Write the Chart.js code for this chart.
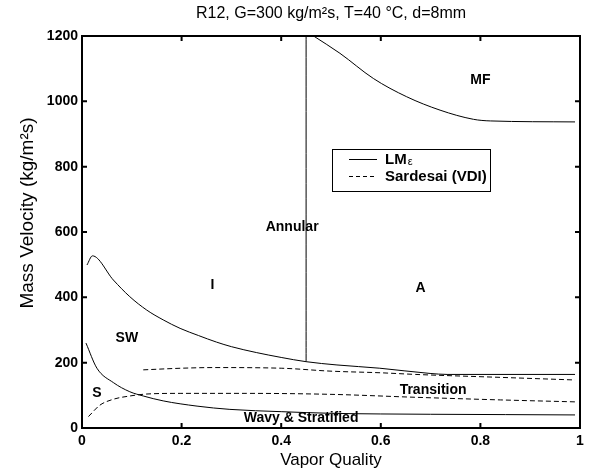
<!DOCTYPE html>
<html>
<head>
<meta charset="utf-8">
<script src="https://cdn.jsdelivr.net/npm/chart.js@4"></script>
<style>
  html, body { margin: 0; padding: 0; background: #fff; }
</style>
</head>
<body>
<canvas id="chart" width="589" height="472"></canvas>
<script>
// LMe map boundaries (solid)
const swQ = [0.01, 0.021, 0.063, 0.096, 0.13, 0.163, 0.197, 0.234, 0.27, 0.3, 0.35, 0.4, 0.45, 0.512, 0.598, 0.699, 0.733, 0.99];
const swG = [499, 527, 453, 402, 361, 331, 305, 283, 263, 249, 231, 216, 203, 193, 183, 167, 164, 164];

const stratQ = [0.008, 0.03, 0.063, 0.096, 0.123, 0.163, 0.231, 0.297, 0.4, 0.5, 0.6, 0.7, 0.85, 0.99];
const stratG = [260, 183, 139, 111, 98, 83, 67, 57, 50, 45, 43, 42, 41, 40];

const annQ = [0.45, 0.45];
const annG = [203, 1200];

const mfQ = [0.465, 0.518, 0.585, 0.652, 0.719, 0.786, 0.82, 0.99];
const mfG = [1200, 1147, 1070, 1014, 973, 945, 940, 937];

// Sardesai (VDI) boundaries (dashed)
const sarUpQ = [0.123, 0.2, 0.264, 0.4, 0.5, 0.6, 0.67, 0.84, 0.99];
const sarUpG = [178, 183, 185, 183, 174, 169, 164, 155, 147];

const sarLoQ = [0.013, 0.036, 0.063, 0.096, 0.13, 0.197, 0.33, 0.5, 0.67, 0.84, 0.99];
const sarLoG = [35, 70, 88, 98, 104, 106, 106, 103, 94, 86, 80];

// region labels
const regionNames = ['MF', 'Annular', 'I', 'A', 'SW', 'S', 'Transition', 'Wavy & Stratified'];
const regionQ = [0.8, 0.422, 0.262, 0.68, 0.09, 0.03, 0.705, 0.44];
const regionG = [1065, 615, 438, 428, 276, 106, 116, 30];

const xTicks = [0, 0.2, 0.4, 0.6, 0.8, 1];
const yTicks = [0, 200, 400, 600, 800, 1000, 1200];

const FONT = '"Liberation Sans", Arial, sans-serif';

function pts(q, g) {
  return q.map((x, i) => ({ x: x, y: g[i] }));
}

function solid(label, q, g) {
  return { label: label, data: pts(q, g), showLine: true, borderColor: '#000', borderWidth: 1,
           pointRadius: 0, cubicInterpolationMode: 'monotone', fill: false };
}
function dashed(label, q, g) {
  return { label: label, data: pts(q, g), showLine: true, borderColor: '#000', borderWidth: 1,
           borderDash: [5, 3], pointRadius: 0, cubicInterpolationMode: 'monotone', fill: false };
}

const framePlugin = {
  id: 'frame',
  afterDraw(chart) {
    const ctx = chart.ctx;
    const a = chart.chartArea;
    const xs = chart.scales.x, ys = chart.scales.y;
    ctx.save();

    // box + inward ticks
    ctx.strokeStyle = '#000';
    ctx.lineWidth = 2;
    ctx.strokeRect(a.left, a.top, a.right - a.left, a.bottom - a.top);
    ctx.beginPath();
    xTicks.slice(1, -1).forEach(v => {
      const px = xs.getPixelForValue(v);
      ctx.moveTo(px, a.bottom); ctx.lineTo(px, a.bottom - 5);
      ctx.moveTo(px, a.top); ctx.lineTo(px, a.top + 5);
    });
    yTicks.slice(1, -1).forEach(v => {
      const py = ys.getPixelForValue(v);
      ctx.moveTo(a.left, py); ctx.lineTo(a.left + 5, py);
      ctx.moveTo(a.right, py); ctx.lineTo(a.right - 5, py);
    });
    ctx.stroke();

    // region labels
    ctx.fillStyle = '#000';
    ctx.font = 'bold 14px ' + FONT;
    ctx.textAlign = 'center';
    ctx.textBaseline = 'middle';
    regionNames.forEach((t, i) => {
      ctx.fillText(t, xs.getPixelForValue(regionQ[i]), ys.getPixelForValue(regionG[i]));
    });

    // title
    ctx.font = '16px ' + FONT;
    ctx.fillText('R12, G=300 kg/m\u00b2s, T=40 \u00b0C, d=8mm', (a.left + a.right) / 2, 14);

    // y axis title
    ctx.save();
    ctx.translate(28, 213);
    ctx.rotate(-Math.PI / 2);
    ctx.font = '19px ' + FONT;
    ctx.fillText('Mass Velocity (kg/m\u00b2s)', 0, 0);
    ctx.restore();

    // legend
    const lx = a.left + 250, ly = a.top + 113, lw = 158, lh = 42;
    ctx.fillStyle = '#fff';
    ctx.fillRect(lx, ly, lw, lh);
    ctx.lineWidth = 1;
    ctx.strokeStyle = '#000';
    ctx.strokeRect(lx + 0.5, ly + 0.5, lw, lh);
    ctx.beginPath();
    ctx.moveTo(lx + 17, ly + 10.5); ctx.lineTo(lx + 45, ly + 10.5);
    ctx.stroke();
    ctx.setLineDash([4, 3]);
    ctx.beginPath();
    ctx.moveTo(lx + 17, ly + 27.5); ctx.lineTo(lx + 45, ly + 27.5);
    ctx.stroke();
    ctx.setLineDash([]);
    ctx.fillStyle = '#000';
    ctx.textAlign = 'left';
    ctx.font = 'bold 15px ' + FONT;
    ctx.fillText('LM', lx + 53, ly + 11);
    const w = ctx.measureText('LM').width;
    ctx.font = '11px ' + FONT;
    ctx.fillText('\u03b5', lx + 53 + w + 1, ly + 13);
    ctx.font = 'bold 15px ' + FONT;
    ctx.fillText('Sardesai (VDI)', lx + 53, ly + 28);

    ctx.restore();
  }
};

new Chart(document.getElementById('chart'), {
  type: 'scatter',
  data: {
    datasets: [
      solid('LM\u03b5', swQ, swG),
      solid('LM\u03b5', stratQ, stratG),
      solid('LM\u03b5', annQ, annG),
      solid('LM\u03b5', mfQ, mfG),
      dashed('Sardesai (VDI)', sarUpQ, sarUpG),
      dashed('Sardesai (VDI)', sarLoQ, sarLoG)
    ]
  },
  options: {
    responsive: false,
    animation: false,
    layout: { padding: { top: 36, right: 9, left: 0, bottom: 0 } },
    plugins: { legend: { display: false }, tooltip: { enabled: false } },
    scales: {
      x: {
        type: 'linear', min: 0, max: 1,
        afterBuildTicks: s => { s.ticks = xTicks.map(v => ({ value: v })); },
        afterFit: s => { s.height = 44; },
        grid: { display: false, drawTicks: false }, border: { display: false },
        ticks: { color: '#000', padding: 5, maxRotation: 0, callback: v => String(v),
                 font: { family: FONT, size: 14, weight: 'bold' } },
        title: { display: true, text: 'Vapor Quality', color: '#000', padding: { top: 0, bottom: 1 },
                 font: { family: FONT, size: 17 } }
      },
      y: {
        type: 'linear', min: 0, max: 1200,
        afterBuildTicks: s => { s.ticks = yTicks.map(v => ({ value: v })); },
        afterFit: s => { s.width = 82; },
        grid: { display: false, drawTicks: false }, border: { display: false },
        ticks: { color: '#000', padding: 4, callback: v => String(v),
                 font: { family: FONT, size: 14, weight: 'bold' } }
      }
    }
  },
  plugins: [framePlugin]
});
</script>
</body>
</html>
